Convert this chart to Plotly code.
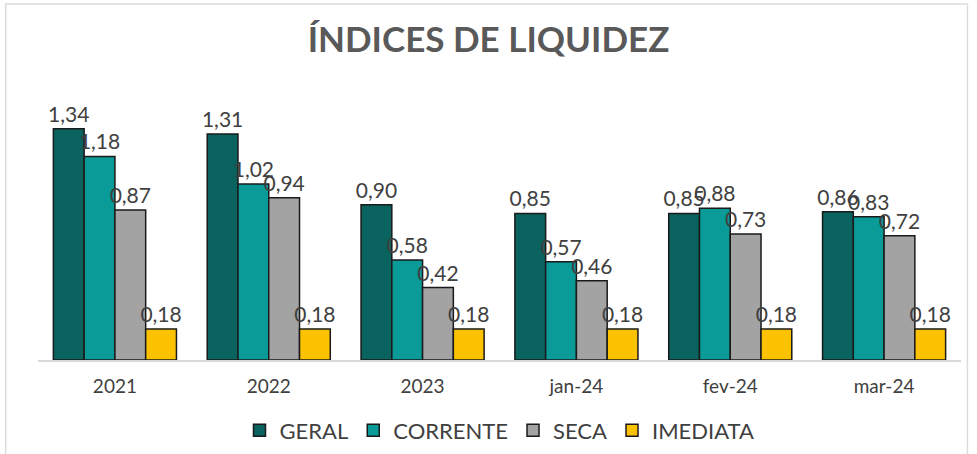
import plotly.graph_objects as go

categories = ["2021", "2022", "2023", "jan-24", "fev-24", "mar-24"]
geral = [1.34, 1.31, 0.90, 0.85, 0.85, 0.86]
corrente = [1.18, 1.02, 0.58, 0.57, 0.88, 0.83]
seca = [0.87, 0.94, 0.42, 0.46, 0.73, 0.72]
imediata = [0.18, 0.18, 0.18, 0.18, 0.18, 0.18]

series = [
    ("GERAL", geral, "#0b6360"),
    ("CORRENTE", corrente, "#0a9b98"),
    ("SECA", seca, "#a3a3a3"),
    ("IMEDIATA", imediata, "#fcc200"),
]

FONT = "Lato, 'DejaVu Sans', sans-serif"

fig = go.Figure()
for name, vals, col in series:
    fig.add_trace(go.Bar(
        name=name, x=categories, y=vals,
        marker=dict(color=col, line=dict(color="#1a1a1a", width=1.5)),
        text=[f"{v:.2f}".replace(".", ",") for v in vals],
        textposition="outside",
        constraintext="none",
        textfont=dict(size=21, color="#404040", family=FONT),
        cliponaxis=False,
    ))

fig.update_layout(
    width=977, height=454,
    barmode="group", bargap=0.2, bargroupgap=0,
    paper_bgcolor="white", plot_bgcolor="white",
    margin=dict(l=38, r=16, t=84, b=94),
    title=dict(text="<b>ÍNDICES DE LIQUIDEZ</b>", x=0.5, xanchor="center",
               y=0.912, yanchor="middle",
               font=dict(size=35, color="#595959", family=FONT)),
    font=dict(family=FONT, color="#404040"),
    showlegend=True,
    legend=dict(orientation="h", x=0.5, xanchor="center",
                yref="container", y=0.052, yanchor="middle",
                font=dict(size=22, color="#404040"), itemwidth=30, traceorder="normal"),
    xaxis=dict(showline=True, linecolor="#d9d9d9", linewidth=1.5, ticks="",
               ticklabelstandoff=8, tickfont=dict(size=19, color="#404040")),
    yaxis=dict(range=[0, 1.6], visible=False, showgrid=False),
    shapes=[dict(type="rect", xref="paper", yref="paper",
                 x0=-0.035, x1=1.007, y0=-0.36, y1=1.29,
                 line=dict(color="#dcdcdc", width=1.5))],
)

fig.write_html("out.html", config={"displayModeBar": False},
               post_script="document.body.style.margin='0';")
